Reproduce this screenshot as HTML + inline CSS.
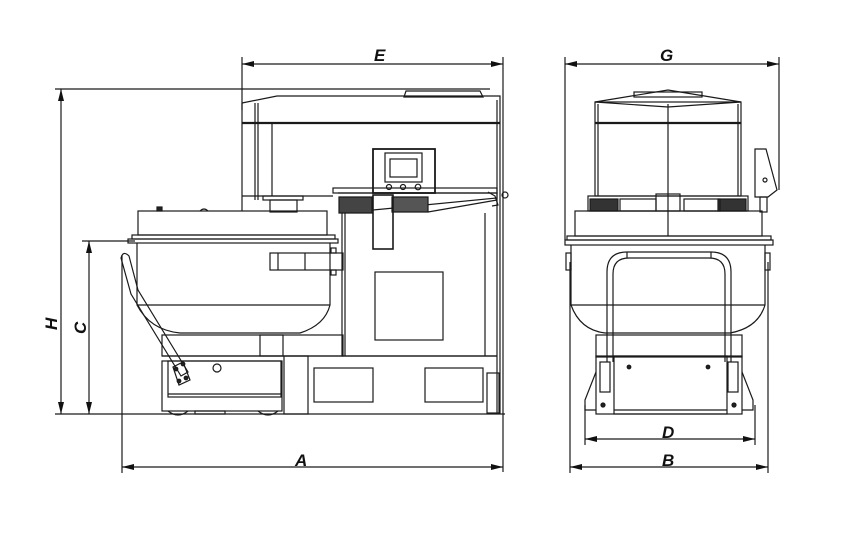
<!DOCTYPE html>
<html><head><meta charset="utf-8"><style>
html,body{margin:0;padding:0;background:#fff;}
svg{display:block}
text{font-family:"Liberation Sans",sans-serif;font-style:italic;font-weight:bold;font-size:17px;fill:#111;}
</style></head><body>
<svg width="842" height="541" viewBox="0 0 842 541" xmlns="http://www.w3.org/2000/svg">
<defs>
<marker id="a" viewBox="0 0 12 6" refX="12" refY="3" markerWidth="12" markerHeight="6" markerUnits="userSpaceOnUse" orient="auto-start-reverse"><path d="M0,0 L12,3 L0,6 Z" fill="#111"/></marker>
</defs>
<g stroke="#1a1a1a" stroke-width="1.2" fill="none">
<line x1="55" y1="89" x2="490" y2="89"/>
<line x1="55" y1="414" x2="505" y2="414"/>
<line x1="82" y1="241" x2="135" y2="241"/>
<line x1="242" y1="57" x2="242" y2="110"/>
<line x1="503" y1="57" x2="503" y2="472"/>
<line x1="122" y1="255" x2="122" y2="473"/>
<line x1="565" y1="57" x2="565" y2="240"/>
<line x1="779" y1="57" x2="779" y2="190"/>
<line x1="570" y1="262" x2="570" y2="473"/>
<line x1="768" y1="262" x2="768" y2="473"/>
<line x1="585" y1="405" x2="585" y2="445"/>
<line x1="755" y1="405" x2="755" y2="445"/>
<line x1="242" y1="64" x2="503" y2="64" marker-start="url(#a)" marker-end="url(#a)"/>
<line x1="565" y1="64" x2="779" y2="64" marker-start="url(#a)" marker-end="url(#a)"/>
<line x1="61" y1="89" x2="61" y2="414" marker-start="url(#a)" marker-end="url(#a)"/>
<line x1="89" y1="241" x2="89" y2="414" marker-start="url(#a)" marker-end="url(#a)"/>
<line x1="122" y1="467" x2="503" y2="467" marker-start="url(#a)" marker-end="url(#a)"/>
<line x1="585" y1="439" x2="755" y2="439" marker-start="url(#a)" marker-end="url(#a)"/>
<line x1="570" y1="467" x2="768" y2="467" marker-start="url(#a)" marker-end="url(#a)"/>

<path d="M242,103 L277,96 L500,96 L500,123"/>
<path d="M404,97 L406,91 L480,91 L483,97 Z"/>
<line x1="242" y1="123" x2="500" y2="123" stroke-width="2.2"/>
<line x1="242" y1="103" x2="242" y2="211"/>
<line x1="255" y1="103" x2="255" y2="200"/>
<line x1="258" y1="103" x2="258" y2="200"/>
<line x1="272" y1="123" x2="272" y2="196"/>
<line x1="497" y1="100" x2="497" y2="414"/>
<line x1="500" y1="123" x2="500" y2="414"/>
<line x1="242" y1="196" x2="333" y2="196"/>
<rect x="263" y="196" width="40" height="4"/>
<rect x="270" y="200" width="27" height="12"/>
<rect x="333" y="188" width="164" height="5"/>
<rect x="373" y="149" width="62" height="44" stroke-width="1.8"/>
<rect x="385" y="153" width="37" height="29"/>
<rect x="390" y="159" width="27" height="18"/>
<circle cx="389" cy="187" r="2.5"/><circle cx="403" cy="187" r="2.5"/><circle cx="418" cy="187" r="2.8"/>
<path d="M338,193 L497,193 L497,198 L342,213" />
<path d="M339,197 L372,197 L372,213 L339,213 Z" fill="#444"/>
<path d="M392,197 L428,197 L428,212 L392,212 Z" fill="#555"/>
<path d="M428,212 L497,200"/>
<path d="M488,192 L495,196 L498,205 L492,206"/>
<circle cx="505" cy="195" r="3"/>
<rect x="373" y="195" width="20" height="54" stroke-width="1.6"/>
<rect x="138" y="211" width="189" height="24"/>
<rect x="157" y="207" width="5" height="4" fill="#222"/>
<path d="M200,211 Q204,207 208,211" />
<rect x="132" y="235" width="203" height="4"/>
<rect x="128" y="239" width="210" height="4"/>
<path d="M137,243 L137,305 Q150,330 180,333 L300,333 Q325,325 330,305 L330,243"/>
<line x1="137" y1="305" x2="330" y2="305"/>
<rect x="270" y="253" width="73" height="17"/>
<line x1="305" y1="253" x2="305" y2="270"/>
<line x1="278" y1="253" x2="278" y2="270"/>
<rect x="331" y="248" width="5" height="5"/><rect x="331" y="270" width="5" height="5"/>
<path d="M342,213 L342,356 L497,356"/>
<line x1="345" y1="213" x2="345" y2="356"/>
<rect x="375" y="272" width="68" height="68"/>
<line x1="485" y1="213" x2="485" y2="356"/>
<rect x="162" y="335" width="181" height="21"/>
<rect x="260" y="335" width="23" height="21"/>
<line x1="162" y1="356" x2="497" y2="356"/>
<rect x="162" y="361" width="120" height="50"/>
<rect x="168" y="361" width="113" height="36"/>
<line x1="168" y1="394" x2="281" y2="394"/>
<rect x="284" y="356" width="24" height="58"/>
<rect x="314" y="368" width="59" height="34"/>
<rect x="425" y="368" width="58" height="34"/>
<rect x="487" y="373" width="12" height="40"/>
<circle cx="217" cy="368" r="4"/>
<rect x="195" y="411" width="30" height="3"/>
<path d="M168,411 Q178,419 188,411"/>
<path d="M258,411 Q268,419 278,411"/>
<path d="M121,258 Q123,250 129,256 L138,290 L188,372 L181,376 L131,294 L121,258 Z"/>
<path d="M173,367 L183,362 L190,380 L179,385 Z"/>
<circle cx="176" cy="369" r="1.8" fill="#222"/><circle cx="183" cy="364" r="1.8" fill="#222"/><circle cx="179" cy="381" r="1.8" fill="#222"/><circle cx="186" cy="378" r="1.8" fill="#222"/>

<path d="M595,102 L668,90 L741,102 L668,107 Z"/>
<rect x="634" y="92" width="68" height="5"/>
<rect x="595" y="102" width="146" height="94"/>
<line x1="595" y1="123" x2="741" y2="123" stroke-width="2.2"/>
<line x1="668" y1="104" x2="668" y2="236"/>
<line x1="598" y1="104" x2="598" y2="196"/>
<line x1="738" y1="104" x2="738" y2="196"/>
<rect x="588" y="196" width="160" height="15"/>
<rect x="590" y="199" width="28" height="12" fill="#333"/>
<rect x="718" y="199" width="28" height="12" fill="#333"/>
<rect x="620" y="199" width="36" height="12"/>
<rect x="684" y="199" width="36" height="12"/>
<rect x="656" y="194" width="24" height="17"/>
<rect x="575" y="211" width="187" height="25"/>
<rect x="567" y="236" width="204" height="4"/>
<rect x="565" y="240" width="208" height="5"/>
<path d="M571,245 L571,305 Q580,330 605,333 L730,333 Q758,328 765,305 L765,245"/>
<line x1="571" y1="305" x2="765" y2="305"/>
<rect x="566" y="253" width="5" height="17"/><rect x="765" y="253" width="5" height="17"/>
<path d="M755,149 L766,149 L777,190 L768,197 L755,197 Z"/>
<circle cx="765" cy="180" r="2"/>
<rect x="760" y="197" width="7" height="15"/>
<path d="M607,362 L607,272 Q607,252 627,252 L711,252 Q731,252 731,272 L731,362"/>
<path d="M613,362 L613,274 Q613,258 629,258 L709,258 Q725,258 725,274 L725,362"/>
<line x1="627" y1="252" x2="627" y2="258"/><line x1="711" y1="252" x2="711" y2="258"/>
<rect x="596" y="335" width="146" height="22"/>
<rect x="596" y="356" width="146" height="58"/>
<rect x="614" y="356" width="113" height="58"/>
<line x1="614" y1="410" x2="727" y2="410"/>
<rect x="600" y="362" width="10" height="30"/><rect x="728" y="362" width="10" height="30"/>
<path d="M596,372 L585,400 L585,410 L596,410"/>
<path d="M742,372 L753,400 L753,410 L742,410"/>
<circle cx="603" cy="405" r="2" fill="#222"/><circle cx="734" cy="405" r="2" fill="#222"/>
<circle cx="629" cy="367" r="1.8" fill="#222"/><circle cx="708" cy="367" r="1.8" fill="#222"/>
</g>
<text x="374" y="61">E</text>
<text x="660" y="61">G</text>
<text x="295" y="466">A</text>
<text x="662" y="438">D</text>
<text x="662" y="466">B</text>
<text transform="translate(57,330) rotate(-90)">H</text>
<text transform="translate(86,334) rotate(-90)">C</text>
</svg>
</body></html>
